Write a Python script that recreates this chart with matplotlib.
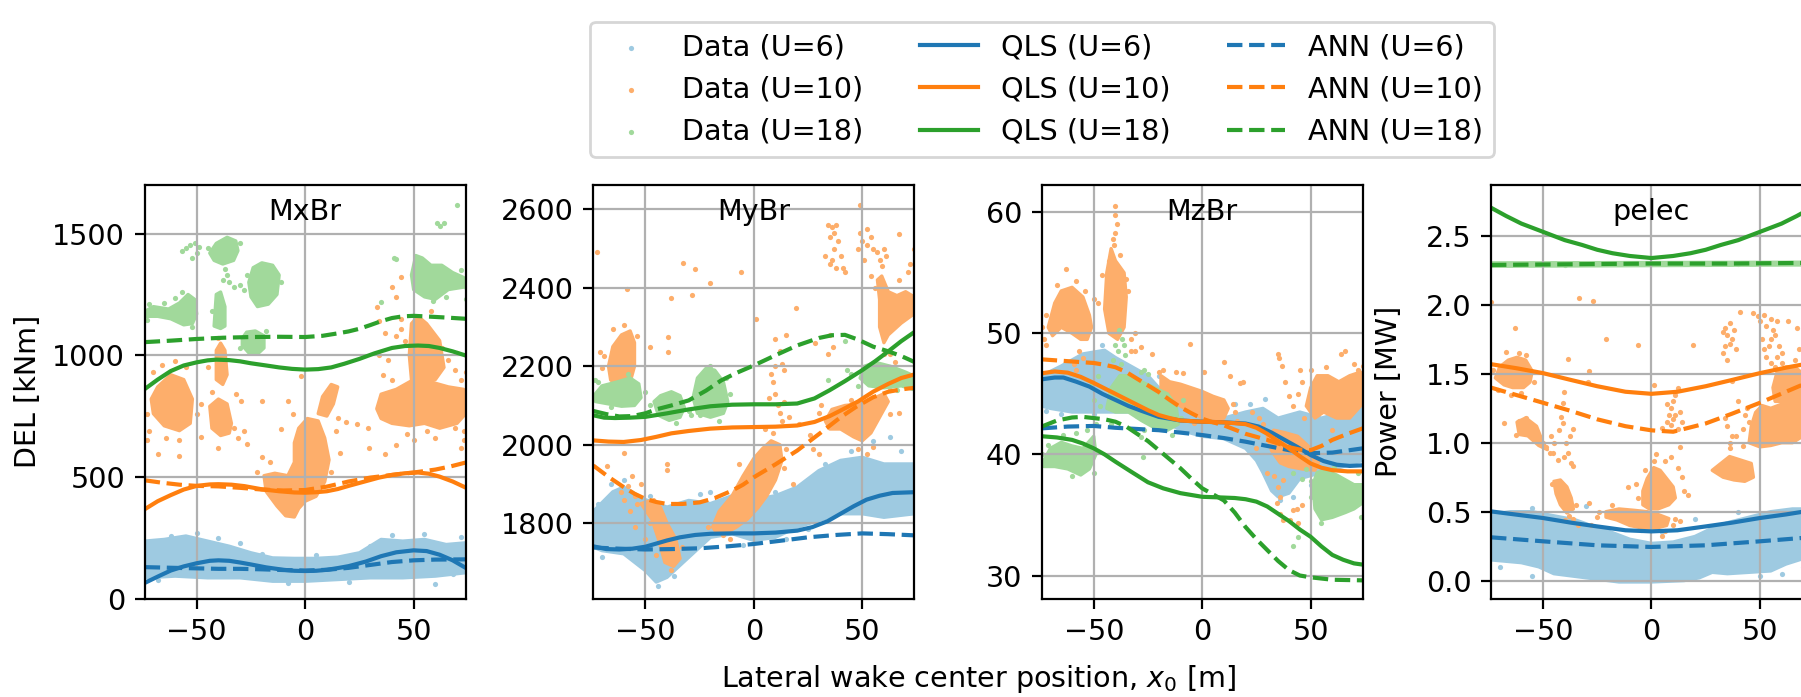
import matplotlib
matplotlib.use("Agg")
import matplotlib.pyplot as plt

plt.rcParams['font.size'] = 10.3

# ---------------- fitted curves ----------------
# MxBr [kNm]
mx_qls6_x = [-74, -68, -62, -56, -50, -44, -40, -35, -30, -25, -18, -10, -5, 0, 5, 10, 15, 20, 28, 35, 42, 50, 56, 62, 68, 74]
mx_qls6_y = [64, 90, 115, 132, 145, 155, 157, 155, 148, 140, 128, 118, 114, 113, 114, 118, 125, 133, 152, 174, 190, 198, 195, 180, 157, 126]
mx_ann6_x = [-74, -60, -50, -40, -30, -20, -10, 0, 10, 20, 30, 40, 50, 60, 74]
mx_ann6_y = [129, 126, 124, 122, 122, 120, 117, 115, 118, 126, 138, 150, 157, 160, 161]
mx_qls10_x = [-74, -68, -62, -56, -50, -44, -40, -34, -28, -20, -12, -5, 0, 5, 10, 15, 20, 27, 34, 40, 46, 52, 57, 62, 68, 74]
mx_qls10_y = [367, 400, 425, 448, 463, 469, 470, 468, 462, 449, 441, 436, 435, 437, 441, 450, 463, 480, 497, 508, 515, 518, 513, 501, 481, 456]
mx_ann10_x = [-74, -66, -58, -50, -40, -30, -20, -10, 0, 10, 20, 30, 40, 50, 60, 67, 74]
mx_ann10_y = [486, 476, 468, 463, 461, 455, 448, 444, 446, 460, 481, 497, 508, 518, 530, 543, 559]
mx_qls18_x = [-74, -68, -62, -56, -50, -45, -41, -35, -30, -25, -18, -12, -6, 0, 6, 12, 18, 25, 32, 40, 46, 52, 57, 62, 68, 74]
mx_qls18_y = [861, 900, 935, 958, 971, 979, 982, 980, 975, 967, 958, 950, 944, 941, 943, 950, 965, 985, 1008, 1030, 1038, 1040, 1038, 1030, 1016, 999]
mx_ann18_x = [-74, -62, -50, -38, -25, -12, 0, 8, 15, 20, 25, 30, 35, 40, 45, 50, 55, 65, 74]
mx_ann18_y = [1054, 1060, 1067, 1072, 1075, 1076, 1075, 1080, 1090, 1098, 1109, 1124, 1140, 1153, 1160, 1162, 1160, 1155, 1150]

# MyBr [kNm]
my_qls6_x = [-74, -68, -62, -56, -50, -45, -40, -34, -27, -20, -10, 0, 10, 20, 27, 34, 40, 46, 52, 58, 64, 74]
my_qls6_y = [1741, 1734, 1733, 1735, 1740, 1748, 1756, 1764, 1770, 1773, 1774, 1774, 1776, 1781, 1790, 1805, 1824, 1843, 1860, 1870, 1877, 1879]
my_ann6_x = [-74, -62, -50, -38, -25, -12, 0, 12, 25, 38, 50, 62, 74]
my_ann6_y = [1738, 1735, 1733, 1734, 1736, 1741, 1747, 1755, 1764, 1770, 1774, 1772, 1769]
my_qls10_x = [-74, -67, -60, -52, -45, -38, -30, -20, -10, 0, 10, 20, 28, 35, 40, 48, 55, 62, 68, 74]
my_qls10_y = [2011, 2008, 2007, 2012, 2020, 2029, 2035, 2041, 2044, 2045, 2046, 2049, 2058, 2073, 2087, 2110, 2135, 2155, 2170, 2179]
my_ann10_x = [-74, -67, -60, -55, -50, -45, -40, -33, -25, -18, -10, -5, 0, 10, 20, 30, 40, 47, 55, 62, 68, 74]
my_ann10_y = [1947, 1918, 1892, 1875, 1862, 1854, 1849, 1849, 1853, 1864, 1883, 1898, 1917, 1950, 1985, 2027, 2070, 2096, 2121, 2135, 2141, 2145]
my_qls18_x = [-74, -69, -64, -57, -50, -40, -30, -20, -10, 0, 10, 20, 28, 35, 42, 50, 56, 62, 68, 74]
my_qls18_y = [2075, 2069, 2068, 2069, 2071, 2080, 2090, 2098, 2102, 2103, 2103, 2105, 2118, 2139, 2162, 2190, 2213, 2238, 2264, 2287]
my_ann18_x = [-74, -68, -62, -56, -50, -45, -38, -30, -22, -15, -8, 0, 10, 20, 30, 36, 42, 48, 55, 62, 68, 74]
my_ann18_y = [2086, 2078, 2072, 2073, 2080, 2090, 2100, 2113, 2138, 2164, 2183, 2202, 2228, 2253, 2272, 2279, 2280, 2268, 2250, 2238, 2226, 2211]

# MzBr [kNm]
mz_qls6_x = [-74, -68, -64, -58, -52, -46, -40, -34, -28, -20, -10, 0, 10, 20, 26, 32, 38, 44, 50, 56, 62, 68, 74]
mz_qls6_y = [46.2, 46.35, 46.35, 46.0, 45.6, 45.0, 44.5, 44.0, 43.6, 43.1, 42.8, 42.7, 42.65, 42.55, 42.3, 41.8, 41.2, 40.6, 39.95, 39.45, 39.15, 39.05, 39.1]
mz_ann6_x = [-74, -62, -50, -40, -30, -20, -10, 0, 10, 20, 30, 40, 50, 60, 74]
mz_ann6_y = [42.15, 42.3, 42.35, 42.2, 42.1, 42.0, 41.8, 41.6, 41.35, 41.05, 40.7, 40.35, 40.1, 40.15, 40.5]
mz_qls10_x = [-74, -68, -62, -56, -50, -45, -40, -35, -30, -25, -20, -15, -10, 0, 10, 20, 25, 30, 35, 40, 45, 50, 55, 60, 67, 74]
mz_qls10_y = [46.7, 46.85, 46.75, 46.4, 45.9, 45.45, 45.0, 44.55, 44.1, 43.65, 43.25, 43.0, 42.8, 42.7, 42.65, 42.5, 42.2, 41.7, 41.1, 40.5, 39.85, 39.25, 38.9, 38.7, 38.6, 38.6]
mz_ann10_x = [-74, -62, -50, -45, -40, -35, -30, -25, -20, -15, -10, -5, 0, 5, 10, 15, 20, 25, 30, 35, 40, 45, 50, 55, 60, 67, 74]
mz_ann10_y = [47.85, 47.7, 47.55, 47.4, 47.2, 46.8, 46.25, 45.7, 45.15, 44.5, 43.9, 43.4, 42.95, 42.65, 42.4, 42.05, 41.7, 41.45, 41.2, 40.9, 40.6, 40.4, 40.35, 40.7, 41.2, 41.7, 42.15]
mz_qls18_x = [-74, -67, -60, -55, -50, -45, -40, -33, -25, -18, -10, 0, 8, 15, 20, 25, 30, 35, 40, 45, 50, 55, 60, 65, 70, 74]
mz_qls18_y = [41.5, 41.4, 41.2, 40.9, 40.5, 40.0, 39.4, 38.6, 37.7, 37.2, 36.8, 36.5, 36.45, 36.4, 36.3, 36.1, 35.7, 35.1, 34.5, 33.8, 33.2, 32.4, 31.7, 31.3, 31.0, 30.9]
mz_ann18_x = [-74, -67, -60, -55, -50, -45, -40, -35, -30, -25, -20, -15, -10, -5, 0, 5, 10, 15, 20, 25, 30, 35, 40, 45, 50, 60, 74]
mz_ann18_y = [42.3, 42.8, 43.05, 43.1, 43.0, 42.9, 42.7, 42.3, 41.7, 41.1, 40.35, 39.6, 38.85, 38.0, 37.2, 36.7, 36.2, 35.2, 34.0, 33.0, 32.1, 31.2, 30.45, 30.0, 29.85, 29.65, 29.6]

# pelec [MW]
pe_qls6_x = [-74, -62, -50, -37, -25, -12, 0, 12, 25, 37, 50, 62, 74]
pe_qls6_y = [0.502, 0.478, 0.454, 0.42, 0.393, 0.365, 0.357, 0.365, 0.393, 0.42, 0.454, 0.48, 0.51]
pe_ann6_x = [-74, -50, -25, 0, 25, 50, 74]
pe_ann6_y = [0.314, 0.285, 0.256, 0.244, 0.256, 0.285, 0.315]
pe_qls10_x = [-74, -62, -50, -37, -25, -12, 0, 12, 25, 37, 50, 62, 74]
pe_qls10_y = [1.57, 1.54, 1.505, 1.455, 1.41, 1.37, 1.355, 1.37, 1.41, 1.455, 1.505, 1.545, 1.58]
pe_ann10_x = [-74, -62, -50, -37, -25, -12, 0, 10, 25, 37, 50, 62, 74]
pe_ann10_y = [1.40, 1.345, 1.29, 1.23, 1.17, 1.12, 1.09, 1.08, 1.14, 1.21, 1.29, 1.37, 1.45]
pe_qls18_x = [-74, -67, -60, -55, -50, -45, -40, -32, -25, -18, -10, 0, 10, 18, 25, 32, 40, 45, 50, 55, 60, 67, 74]
pe_qls18_y = [2.705, 2.645, 2.59, 2.56, 2.53, 2.50, 2.47, 2.435, 2.40, 2.375, 2.355, 2.34, 2.355, 2.375, 2.40, 2.435, 2.47, 2.50, 2.53, 2.56, 2.59, 2.645, 2.705]
pe_ann18_x = [-74, -37, 0, 37, 74]
pe_ann18_y = [2.29, 2.295, 2.30, 2.30, 2.305]

# ---------------- measured data clouds ----------------
# dense regions as outlines, sparse samples as single points
mx_u6_blobs = [[(-74, 236), (-65, 243), (-55, 257), (-45, 236), (-35, 215), (-25, 188), (-15, 167), (-5, 165),
                (5, 165), (15, 170), (25, 188), (35, 243), (45, 236), (55, 243), (65, 222), (74, 229),
                (74, 106), (60, 92), (45, 85), (30, 85), (15, 78), (0, 71), (-15, 71), (-30, 85), (-45, 85),
                (-60, 92), (-74, 85)]]
mx_u6_pts = [(-62, 258), (-50, 268), (-40, 250), (-20, 182), (5, 178), (40, 262), (55, 266), (72, 252),
             (60, 58), (-8, 62), (20, 68), (-68, 78), (68, 100), (-30, 230), (30, 215)]
mx_u10_blobs = [
    [(-68, 870), (-62, 920), (-56, 900), (-52, 820), (-53, 720), (-58, 690), (-65, 710), (-70, 760), (-71, 820)],
    [(-44, 790), (-40, 820), (-36, 800), (-34, 720), (-35, 680), (-39, 670), (-43, 700)],
    [(-41, 900), (-41, 1020), (-39, 1050), (-37, 1020), (-36, 920), (-38, 880)],
    [(-19, 505), (-14, 515), (-8, 505), (-5, 560), (-5, 640), (-3, 700), (1, 740), (6, 730), (9, 660), (11, 570),
     (9, 480), (5, 420), (0, 400), (-3, 370), (-5, 335), (-9, 340), (-13, 380), (-18, 440)],
    [(6, 760), (8, 830), (12, 880), (15, 870), (13, 800), (10, 750)],
    [(33, 780), (35, 840), (42, 860), (50, 900), (58, 890), (66, 870), (73, 860), (74, 760), (70, 720),
     (62, 700), (55, 720), (48, 710), (40, 720), (35, 740)],
    [(48, 1000), (49, 1130), (52, 1160), (56, 1130), (62, 1060), (64, 950), (60, 900), (54, 880), (49, 900)]]
mx_u10_pts = [(-72, 690), (-73, 760), (-70, 930), (-66, 960), (-60, 975), (-55, 950), (-64, 660), (-58, 650),
              (-50, 760), (-48, 800), (-73, 650), (-68, 593), (-58, 586), (-48, 662), (-40, 620), (-33, 700),
              (-31, 660), (-45, 950), (-40, 1070), (-43, 850), (-32, 840), (-28, 689), (-27, 634), (-20, 813),
              (-29.5, 813), (-5.7, 758), (-11, 696), (-2, 916), (-8, 813), (15, 744), (19, 724), (24, 717),
              (29, 703), (29.6, 620), (36.6, 593), (14, 689), (-20, 580), (-22, 520), (-16, 560), (12, 520),
              (16, 600), (34, 1140), (33, 1198), (37, 1090), (42, 1080), (44, 1150), (40, 1280), (44, 1320),
              (42, 1239), (44, 1110), (63, 1030), (66, 980), (69, 940), (72, 900), (73, 690), (72, 620),
              (73, 650), (60, 660), (47, 675), (42, 630), (50, 650), (69, 700), (56, 690), (46, 1060),
              (58, 1180), (34, 1000), (36, 920), (38, 980), (40, 900), (70, 1010), (74, 930)]
mx_u18_blobs = [
    [(-74, 1180), (-70, 1200), (-63, 1190), (-58, 1215), (-54, 1250), (-51, 1230), (-50, 1170), (-52, 1130),
     (-56, 1125), (-62, 1150), (-68, 1160), (-74, 1160)],
    [(-44, 1420), (-41, 1460), (-36, 1485), (-32, 1470), (-31, 1430), (-33, 1390), (-38, 1375), (-42, 1390)],
    [(-42, 1120), (-41, 1250), (-39, 1260), (-37, 1200), (-37, 1120), (-39, 1110)],
    [(-26, 1300), (-24, 1360), (-20, 1380), (-15, 1370), (-12, 1330), (-13, 1250), (-17, 1210), (-22, 1200),
     (-25, 1240)],
    [(-29, 1070), (-27, 1095), (-23, 1100), (-19, 1080), (-19, 1030), (-22, 1005), (-26, 1010), (-29, 1040)],
    [(49, 1330), (51, 1410), (54, 1400), (58, 1370), (63, 1370), (68, 1340), (73, 1320), (73, 1280),
     (66, 1270), (60, 1230), (55, 1240), (50, 1270)]]
mx_u18_pts = [(-60, 1235), (-57, 1260), (-55, 1230), (-65, 1215), (-72, 1210), (-73, 1145), (-52, 1115),
              (-57, 1430), (-55, 1440), (-53, 1455), (-51, 1460), (-50, 1420), (-52, 1400), (-49, 1445),
              (-35, 1300), (-33, 1280), (-30, 1290), (-28, 1270), (-36, 1330), (-38, 1310), (-37, 1355),
              (-40, 1150), (-43, 1180), (41, 1400), (42, 1395), (35, 1218), (61, 1545), (62, 1530),
              (64, 1545), (70, 1617), (72, 1350), (74, 1280), (74, 1232), (70, 1300), (65, 1240), (59, 1225),
              (-11, 1300), (-27, 1330), (-30, 1030), (-18, 1100), (-45, 1440), (-30, 1460)]

my_u6_blobs = [[(-74, 1830), (-65, 1880), (-60, 1892), (-50, 1860), (-40, 1841), (-30, 1858), (-20, 1850),
                (-10, 1870), (0, 1860), (10, 1870), (20, 1892), (30, 1934), (40, 1960), (50, 1968), (60, 1951),
                (74, 1951), (74, 1824), (60, 1815), (50, 1824), (40, 1824), (30, 1807), (20, 1790), (10, 1764),
                (0, 1756), (-10, 1773), (-20, 1764), (-30, 1713), (-40, 1662), (-45, 1650), (-50, 1679),
                (-60, 1722), (-70, 1730), (-74, 1739)]]
my_u6_pts = [(-66, 1900), (-60, 1910), (-48, 1870), (-44, 1640), (-37, 1665), (-52, 1700), (55, 2010),
             (63, 2020), (73, 1945), (68, 1985), (33, 1951), (-20, 1880), (10, 1880), (-25, 1875), (45, 1985),
             (-72, 1850), (-70, 1715), (15, 1760), (25, 1785), (-5, 1745)]
my_u10_blobs = [
    [(-67, 2200), (-65, 2250), (-61, 2280), (-57, 2290), (-55, 2260), (-55, 2200), (-57, 2160), (-62, 2150),
     (-66, 2165)],
    [(-46, 1860), (-43, 1840), (-40, 1800), (-36, 1760), (-34, 1710), (-37, 1690), (-41, 1700), (-44, 1760),
     (-47, 1810), (-52, 1850)],
    [(-19, 1790), (-16, 1830), (-10, 1870), (-5, 1920), (0, 1965), (4, 1990), (8, 2010), (12, 2000),
     (13, 1960), (10, 1910), (6, 1870), (2, 1840), (-3, 1810), (-8, 1790), (-13, 1775), (-17, 1775)],
    [(33, 2060), (36, 2090), (42, 2100), (50, 2105), (56, 2120), (60, 2130), (62, 2110), (58, 2070),
     (54, 2030), (50, 2010), (46, 2020), (40, 2040), (35, 2040)],
    [(57, 2420), (59, 2430), (62, 2390), (66, 2380), (70, 2390), (73, 2380), (73, 2330), (68, 2310),
     (62, 2280), (60, 2260), (58, 2300), (58, 2370)]]
my_u10_pts = [(-72.4, 2491), (-70.9, 2236), (-65, 2296), (-60, 2304), (-58.6, 2398), (-54, 2277),
              (-67.8, 1947), (-60, 1979), (-47.9, 2249), (-39.4, 2275), (-39.4, 2236), (-38.3, 2374),
              (-32.5, 2462), (-27, 2447), (-28.7, 2381), (-20.2, 2411), (-5.7, 2439), (1.2, 2321),
              (19.6, 2349), (9.7, 2270), (15, 2279), (-40, 1951), (-40, 1935), (-69, 2225), (-70, 2195),
              (-64, 2140), (-60, 2125), (-61, 1880), (-58, 1895), (-55, 1870), (-52, 1900), (-56, 1920),
              (-54, 1850), (-60, 1860), (-57, 1830), (-49, 1845), (-48, 1800), (-45, 1720), (-21, 1790),
              (-14, 1770), (-11, 1760), (14, 1940), (15, 1990), (5, 2040), (9, 2030), (-7, 1950), (18, 1900),
              (8, 2180), (9, 2160), (10, 2130), (11, 2100), (12, 2080), (13, 2060), (14, 2190), (13, 2207),
              (10, 2200), (12, 2240), (14, 2110), (7, 2120), (16, 2070), (21, 2054), (25.8, 2024),
              (27.3, 1990), (30, 1977), (48, 1990), (52, 1977), (55, 1995), (45, 2115), (63, 2079), (67, 2080),
              (63, 2140), (30, 2080), (31, 2100), (34, 2560), (36, 2555), (38, 2560), (35, 2530), (37, 2500),
              (33, 2480), (35, 2460), (38, 2450), (36, 2470), (40, 2480), (42, 2440), (39, 2520), (37, 2540),
              (41, 2450), (49, 2540), (50, 2520), (52, 2510), (54, 2530), (55, 2500), (57, 2490), (58, 2470),
              (52, 2550), (48, 2500), (51, 2470), (59, 2455), (60, 2500), (61, 2480), (54, 2430), (56, 2400),
              (64, 2350), (67, 2420), (71, 2440), (72, 2460), (69, 2350), (74, 2500), (60, 2230), (63, 2230),
              (65, 2210), (49, 2610), (67, 2538), (-50, 1760), (-55, 1790), (-33, 1740), (-38, 1680),
              (35, 2280), (36.5, 2249), (34, 2230), (28, 2260)]
my_u18_blobs = [
    [(-73, 2130), (-70, 2150), (-63, 2160), (-57, 2170), (-53, 2155), (-52, 2120), (-55, 2100), (-61, 2098),
     (-68, 2105), (-73, 2110)],
    [(-46, 2110), (-43, 2125), (-38, 2135), (-34, 2125), (-32, 2095), (-34, 2070), (-39, 2062), (-44, 2075)],
    [(-28, 2120), (-26, 2170), (-22, 2195), (-18, 2190), (-14, 2160), (-12, 2110), (-14, 2080), (-20, 2070),
     (-26, 2080)],
    [(49, 2170), (51, 2200), (56, 2210), (63, 2200), (70, 2185), (74, 2175), (74, 2140), (68, 2150),
     (60, 2145), (53, 2150)]]
my_u18_pts = [(-72, 2160), (-73, 2164), (-58, 2180), (-66, 2095), (-50, 2135), (-48, 2100), (-30, 2085),
              (-29, 2075), (-36, 2055), (-13, 2170), (-11, 2130), (-16, 2060), (-25, 2075), (45, 2180),
              (43, 2190), (48, 2150), (72, 2150), (66, 2140), (-74, 2120), (34, 2164), (42, 2264), (-20, 2200)]

mz_u6_blobs = [[(-74, 46.5), (-65, 47.3), (-55, 48.3), (-45, 48.6), (-40, 48.0), (-35, 47.5), (-30, 47.0),
                (-25, 46.5), (-20, 45.5), (-10, 44.5), (0, 43.5), (10, 43.0), (20, 43.5), (28, 43.8), (35, 43.0),
                (45, 43.5), (55, 43.0), (65, 43.5), (74, 44.0), (74, 39.5), (65, 39.0), (55, 38.5), (45, 38.0),
                (40, 36.8), (35, 36.5), (32, 37.0), (28, 38.5), (25, 39.5), (20, 40.5), (10, 41.3), (0, 41.5),
                (-10, 42.0), (-20, 43.0), (-30, 43.5), (-40, 43.5), (-50, 43.5), (-60, 43.5), (-70, 43.8),
                (-74, 44.0)]]
mz_u6_pts = [(-72, 43.6), (-65, 43.3), (-50, 43.3), (-30, 43.2), (15, 44.2), (22, 44.2), (29, 44.6), (60, 44.4),
             (70, 44.5), (50, 37.5), (36, 36.2), (42, 36.5), (-46, 49.0), (-48, 48.2), (-20, 46.5)]
mz_u10_blobs = [
    [(-71, 50.5), (-68, 52.5), (-65, 53.5), (-60, 53.8), (-55, 53.0), (-52, 51.5), (-51, 50.5), (-53, 49.5),
     (-56, 49.5), (-60, 50.0), (-65, 50.5), (-69, 49.8)],
    [(-45, 52.0), (-44, 55.0), (-42, 57.0), (-40, 56.0), (-36, 55.0), (-35, 53.0), (-36, 50.5), (-39, 49.5),
     (-43, 50.0)],
    [(-19, 46.5), (-15, 46.0), (-10, 45.8), (-5, 45.5), (0, 45.2), (5, 44.8), (10, 44.5), (12, 43.8), (10, 43.0),
     (5, 42.8), (0, 43.0), (-5, 43.5), (-10, 44.0), (-15, 44.5), (-19, 45.0)],
    [(48, 44.0), (50, 45.5), (53, 46.5), (58, 46.5), (63, 46.0), (68, 46.5), (73, 46.8), (74, 45.5), (73, 44.0),
     (68, 43.0), (62, 43.0), (56, 43.5), (52, 43.0)],
    [(30, 41.5), (33, 42.0), (38, 41.8), (44, 41.5), (50, 40.5), (54, 39.5), (52, 38.7), (46, 38.8), (40, 39.0),
     (36, 39.3), (32, 40.3)]]
mz_u10_pts = [(-72, 51.5), (-73, 49.5), (-72, 49.0), (-67, 54.0), (-63, 55.3), (-58, 54.3), (-54, 53.5),
              (-50, 52.8), (-48, 52.5), (-57, 48.5), (-59, 47.5), (-58, 47.0), (-55, 48.0), (-74, 50.5),
              (-40, 60.5), (-40, 59.8), (-39.5, 59.0), (-40, 58.3), (-41, 57.8), (-40.5, 57.3), (-38, 56.5),
              (-43, 56.0), (-46, 54.8), (-35, 54.5), (-34, 53.5), (-33, 49.5), (-31, 50.0), (-31, 48.5),
              (-28, 48.9), (-33, 48.5), (-20, 46.8), (-18, 47.0), (-12, 46.8), (-9, 46.7), (1, 46.8), (10, 47.6),
              (-5.7, 49.1), (14, 44.2), (15, 43.5), (16, 42.8), (13, 46.5), (17.5, 45.9), (19, 46.0), (-23, 48.3),
              (-4, 42.6), (50, 47.0), (57, 47.2), (64, 48.3), (66, 48.5), (70, 47.5), (72, 47.0), (46, 46.0),
              (45, 47.0), (47, 43.0), (60, 42.0), (74, 47.3), (35, 48.3), (35.5, 48.0), (37, 47.3), (38, 46.0),
              (40, 44.8), (28, 42.5), (30, 38.5), (33, 38.2), (25, 40.5), (34.4, 35.95), (35.9, 35.1),
              (37.4, 34.6), (40.5, 34.6), (43.6, 35.5), (45.9, 35.8), (44.4, 34.3), (42, 35.4), (35.9, 36.5),
              (37.4, 37.9), (35.1, 37.3), (26, 43.0), (23, 43.5), (42, 44.0), (44, 45.0)]
mz_u18_blobs = [
    [(-73, 39.5), (-70, 40.5), (-65, 41.0), (-60, 40.7), (-55, 40.5), (-50, 41.5), (-49, 40.0), (-52, 38.8),
     (-56, 38.3), (-62, 38.8), (-68, 39.0), (-73, 39.0)],
    [(-42, 45.5), (-38, 46.5), (-33, 46.5), (-28, 46.0), (-22, 45.5), (-16, 45.0), (-12, 44.0), (-11, 42.5),
     (-16, 42.0), (-22, 42.2), (-28, 42.8), (-34, 43.5), (-40, 43.5), (-44, 43.8)],
    [(51, 37.5), (53, 38.5), (57, 38.7), (62, 38.3), (67, 37.8), (70, 37.5), (74, 37.5), (74, 36.0), (70, 35.5),
     (66, 35.2), (60, 34.8), (55, 34.6), (52, 35.5)]]
mz_u18_pts = [(-71, 40.8), (-64, 41.6), (-58, 41.8), (-53, 42.0), (-49, 42.5), (-50, 38.5), (-60, 38.2),
              (-74, 40.0), (-38.5, 50.3), (-37, 49.5), (-36, 49.0), (-39, 48.5), (-40, 49.0), (-35.5, 48.2),
              (-37.5, 47.5), (-41, 47.8), (-51, 45.8), (-50, 44.5), (-47, 44.0), (-48, 46.5), (-28, 46.8),
              (-25, 46.6), (-10, 43.0), (-9, 44.5), (-14, 41.6), (-27, 42.0), (-28, 41.4), (-42, 42.5),
              (-27, 47.0), (-27.5, 39.8), (50, 36.5), (50, 37.8), (55, 34.3), (58, 34.9), (61, 39.0),
              (73, 34.8), (72, 38.5), (48, 38.8), (42, 32.4), (44, 33.2), (46, 38.0), (42, 38.5)]

pe_u6_blobs = [[(-74, 0.48), (-65, 0.50), (-55, 0.50), (-45, 0.47), (-35, 0.44), (-28, 0.40), (-20, 0.36),
                (-10, 0.30), (0, 0.27), (10, 0.28), (20, 0.32), (28, 0.38), (35, 0.42), (45, 0.46), (55, 0.50),
                (65, 0.52), (74, 0.52), (74, 0.18), (68, 0.15), (62, 0.12), (55, 0.07), (45, 0.06), (35, 0.05),
                (28, 0.06), (22, 0.02), (15, 0.0), (0, -0.01), (-15, -0.01), (-25, 0.01), (-35, 0.03),
                (-45, 0.05), (-52, 0.10), (-60, 0.13), (-74, 0.15)]]
pe_u6_pts = [(-55, 0.53), (-30, 0.54), (-10, 0.41), (20, 0.45), (-55, 0.03), (60, 0.05), (50, 0.03),
             (-70, 0.10), (5, 0.35), (-5, 0.37), (40, 0.50), (70, 0.10)]
pe_u10_blobs = [
    [(-72, 1.47), (-70, 1.55), (-66, 1.60), (-62, 1.62), (-58, 1.60), (-55, 1.52), (-56, 1.44), (-59, 1.40),
     (-64, 1.40), (-68, 1.42)],
    [(-58, 1.18), (-53, 1.12), (-50, 1.00), (-48, 0.95), (-52, 0.98), (-57, 1.05), (-61, 1.06), (-62, 1.15)],
    [(-45, 0.72), (-42, 0.73), (-39, 0.68), (-37, 0.60), (-36, 0.52), (-39, 0.49), (-42, 0.55), (-44, 0.63)],
    [(-21, 0.50), (-15, 0.52), (-8, 0.51), (-2, 0.50), (3, 0.48), (8, 0.45), (7, 0.40), (2, 0.38), (-4, 0.38),
     (-10, 0.40), (-16, 0.44), (-21, 0.46)],
    [(-4, 0.55), (-4, 0.65), (-2, 0.74), (1, 0.82), (4, 0.80), (7, 0.74), (10, 0.68), (11, 0.60), (8, 0.55),
     (3, 0.52), (-1, 0.52)],
    [(45, 1.00), (46, 1.12), (48, 1.22), (51, 1.27), (55, 1.25), (60, 1.28), (65, 1.33), (70, 1.35), (74, 1.35),
     (74, 1.15), (70, 1.05), (65, 1.00), (60, 1.00), (55, 0.98), (50, 0.97)],
    [(56, 1.40), (58, 1.52), (62, 1.55), (66, 1.55), (70, 1.50), (74, 1.45), (74, 1.35), (68, 1.32), (62, 1.30),
     (57, 1.30)],
    [(28, 0.80), (32, 0.85), (36, 0.90), (40, 0.88), (46, 0.85), (47, 0.75), (43, 0.72), (38, 0.73), (33, 0.75)]]
pe_u10_pts = [(-67, 1.66), (-61, 1.65), (-58, 1.64), (-73, 1.53), (-71, 1.38), (-65, 1.35), (-60, 1.36),
              (-54, 1.44), (-63, 1.83), (-74, 2.02), (-62.5, 1.058), (-61, 1.155), (-57.8, 1.18), (-56.3, 1.14),
              (-54.8, 1.12), (-53.2, 1.06), (-51.7, 1.02), (-48.6, 0.97), (-47, 0.925), (-44.8, 0.998),
              (-42.5, 1.09), (-41.7, 1.19), (-40.9, 1.29), (-40.2, 1.37), (-40.9, 1.14), (-39.4, 0.997),
              (-38.6, 0.925), (-37.1, 0.853), (-36.3, 0.83), (-37.8, 1.05), (-45.5, 0.925), (-46.3, 1.05),
              (-50, 1.0), (-59.4, 1.07), (-68, 1.14), (-36.3, 1.10), (-43.2, 0.877), (-40.2, 0.90),
              (-46, 0.70), (-35, 0.55), (-38, 0.47), (-40, 0.44), (-34, 0.40), (-29, 0.56), (-36, 0.45),
              (-25, 0.46), (-24, 0.50), (-18, 0.55), (6, 0.36), (10, 0.40), (11, 0.45), (13, 0.43), (5, 0.32),
              (-28, 0.40), (-7, 0.70), (-3, 0.80), (1, 0.87), (2, 0.92), (6, 0.87), (9, 0.90), (12, 0.82),
              (14, 0.75), (15, 0.65), (-6, 0.60), (17, 0.62), (-11, 0.68), (5, 1.11), (7, 1.15), (8, 1.20),
              (9, 1.25), (10, 1.30), (11, 1.35), (12, 1.40), (9, 1.13), (11, 1.20), (13, 1.22), (14, 1.15),
              (12, 1.10), (7, 1.28), (10, 1.17), (1, 1.42), (13, 0.97), (19, 1.71), (-6.3, 1.71), (-21, 1.75),
              (-28.6, 1.52), (-29.4, 1.44), (-38.6, 1.61), (-33.2, 2.05), (-27, 2.03), (36, 0.96), (36, 1.0),
              (35, 1.12), (34, 1.18), (37, 1.05), (42, 0.98), (39, 1.05), (33, 1.80), (34, 1.83), (35, 1.78),
              (36, 1.72), (37, 1.75), (38, 1.82), (34, 1.70), (33, 1.65), (36, 1.87), (39, 1.68), (35, 1.60),
              (40.6, 1.95), (47, 1.94), (49, 1.92), (50, 1.88), (52, 1.93), (53, 1.85), (55, 1.90), (56, 1.82),
              (57, 1.78), (55, 1.75), (58, 1.88), (54, 1.70), (59, 1.70), (60, 1.65), (52, 1.68), (53, 1.62),
              (55, 1.58), (57, 1.55), (60, 1.58), (58, 1.62), (51, 1.75), (63, 1.88), (67, 1.83), (66, 1.60),
              (68, 1.68), (45, 1.15), (44, 1.25), (42, 1.10), (37, 1.45), (40, 1.30), (43, 1.20)]
pe_u18_blobs = [[(-74, 2.28), (74, 2.29), (74, 2.31), (-74, 2.305)]]
pe_u18_pts = [(-70, 2.295), (-40, 2.29), (40, 2.30), (70, 2.30)]

titles = ['MxBr', 'MyBr', 'MzBr', 'pelec']
ylims = [(0, 1700), (1608, 2662), (28.1, 62.25), (-0.13, 2.87)]
yticks = [[0, 500, 1000, 1500], [1800, 2000, 2200, 2400, 2600], [30, 40, 50, 60],
          [0.0, 0.5, 1.0, 1.5, 2.0, 2.5]]
speeds = [6, 10, 18]

line_colors = ['#1f77b4', '#ff7f0e', '#2ca02c']
dot_colors = ['#9ecae1', '#fdae6b', '#a1d99b']

clouds = [
    [(mx_u6_blobs, mx_u6_pts), (mx_u10_blobs, mx_u10_pts), (mx_u18_blobs, mx_u18_pts)],
    [(my_u6_blobs, my_u6_pts), (my_u10_blobs, my_u10_pts), (my_u18_blobs, my_u18_pts)],
    [(mz_u6_blobs, mz_u6_pts), (mz_u10_blobs, mz_u10_pts), (mz_u18_blobs, mz_u18_pts)],
    [(pe_u6_blobs, pe_u6_pts), (pe_u10_blobs, pe_u10_pts), (pe_u18_blobs, pe_u18_pts)],
]
curves = [
    [((mx_qls6_x, mx_qls6_y), (mx_ann6_x, mx_ann6_y)), ((mx_qls10_x, mx_qls10_y), (mx_ann10_x, mx_ann10_y)),
     ((mx_qls18_x, mx_qls18_y), (mx_ann18_x, mx_ann18_y))],
    [((my_qls6_x, my_qls6_y), (my_ann6_x, my_ann6_y)), ((my_qls10_x, my_qls10_y), (my_ann10_x, my_ann10_y)),
     ((my_qls18_x, my_qls18_y), (my_ann18_x, my_ann18_y))],
    [((mz_qls6_x, mz_qls6_y), (mz_ann6_x, mz_ann6_y)), ((mz_qls10_x, mz_qls10_y), (mz_ann10_x, mz_ann10_y)),
     ((mz_qls18_x, mz_qls18_y), (mz_ann18_x, mz_ann18_y))],
    [((pe_qls6_x, pe_qls6_y), (pe_ann6_x, pe_ann6_y)), ((pe_qls10_x, pe_qls10_y), (pe_ann10_x, pe_ann10_y)),
     ((pe_qls18_x, pe_qls18_y), (pe_ann18_x, pe_ann18_y))],
]

# Figure: four panels, the last one runs past the right edge (as in the source)
fig = plt.figure(figsize=(9.005, 3.485), dpi=200)
lefts = [0.08034, 0.32943, 0.57840, 0.82787]

h_data, h_qls, h_ann = [], [], []
for p in range(4):
    ax = fig.add_axes([lefts[p], 0.1413, 0.17823, 0.5933])
    for k in range(3):
        blobs, pts = clouds[p][k]
        for poly in blobs:
            xs = [v[0] for v in poly]
            ys = [v[1] for v in poly]
            ax.fill(xs, ys, color=dot_colors[k], lw=1.2, joinstyle='round', zorder=1)
        sc = ax.scatter([v[0] for v in pts], [v[1] for v in pts], s=3.5, color=dot_colors[k],
                        lw=0, zorder=1, label=f'Data (U={speeds[k]})')
        if p == 0:
            h_data.append(sc)
    for k in range(3):
        (qx, qy), (nx, ny) = curves[p][k]
        lq, = ax.plot(qx, qy, color=line_colors[k], lw=1.5, label=f'QLS (U={speeds[k]})')
        la, = ax.plot(nx, ny, color=line_colors[k], lw=1.5, ls='--', label=f'ANN (U={speeds[k]})')
        if p == 0:
            h_qls.append(lq)
            h_ann.append(la)

    ax.set_xlim(-74, 74)
    ax.set_ylim(*ylims[p])
    ax.set_xticks([-50, 0, 50])
    ax.set_yticks(yticks[p])
    ax.grid(True)
    ax.text(0.5, 0.915, titles[p], transform=ax.transAxes, ha='center', va='baseline')
    if p == 0:
        ax.set_ylabel('DEL [kNm]')
        ax.yaxis.set_label_coords(-0.32, 0.5)
    if p == 3:
        ax.set_ylabel('Power [MW]')
        ax.yaxis.set_label_coords(-0.274, 0.5)

fig.text(0.5433, 0.0143, 'Lateral wake center position, $x_0$ [m]', ha='center', va='baseline')

handles = h_data + h_qls + h_ann
fig.legend(handles, [h.get_label() for h in handles], ncol=3, loc='upper center',
           bbox_to_anchor=(0.5787, 0.9895))

fig.savefig('out.png', dpi=200)
